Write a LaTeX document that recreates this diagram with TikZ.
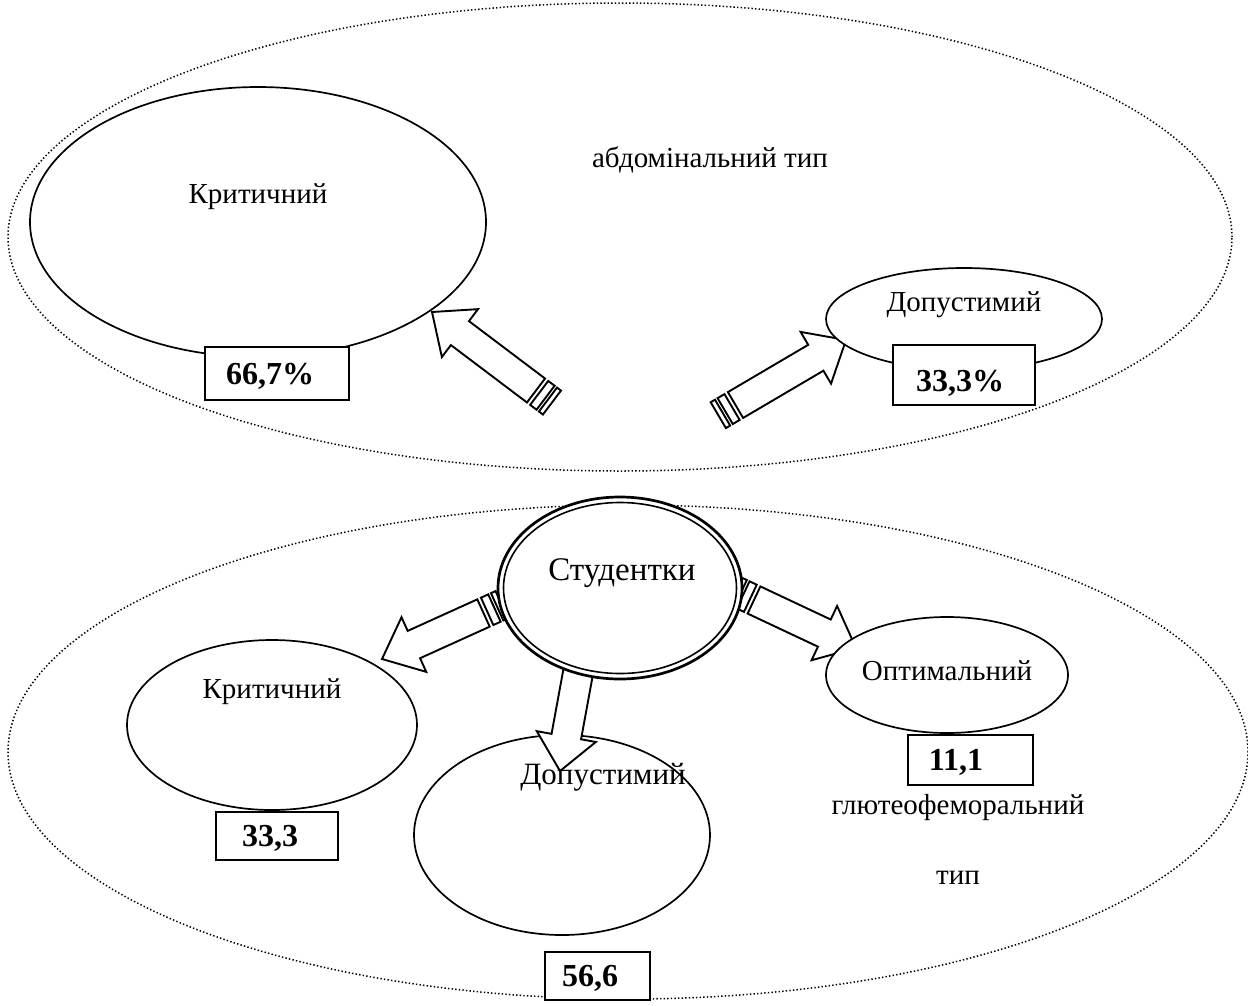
\documentclass[tikz,border=0pt]{standalone}
\usepackage{fontspec}
\setmainfont{Liberation Serif}
\usetikzlibrary{shapes.geometric,calc}

\tikzset{
  oval/.style={ellipse, draw, line width=1.7pt, fill=white, inner sep=0pt},
  bigoval/.style={ellipse, draw, line width=1.5pt, dash pattern=on 1.4pt off 2.2pt, inner sep=0pt},
  valbox/.style={draw, line width=2pt, fill=white, inner sep=0pt},
  valtxt/.style={font=\fontsize{32}{32}\bfseries\selectfont, inner sep=0pt},
  lbl/.style={font=\fontsize{29}{29}\selectfont, inner sep=0pt},
  arr/.style={draw, line width=1.9pt, fill=white, line join=miter},
}

% #1 tail, #2 tip, #3 = 1 for stripes
\newcommand\stripedarrow[3]{%
  \path let \p1=($(#2)-(#1)$), \n1={atan2(\y1,\x1)}, \n2={veclen(\x1,\y1)} in
    \pgfextra{\xdef\arrang{\n1}\xdef\arrlen{\n2}};
  \begin{scope}[shift={(#1)}, rotate=\arrang]
    \path[arr] (0,-15) -- (\arrlen-35,-15) -- (\arrlen-35,-30) -- (\arrlen,0)
      -- (\arrlen-35,30) -- (\arrlen-35,15) -- (0,15) -- cycle;
    \ifnum#3=1
      \path[arr] (-4,-15) rectangle (-12,15);
      \path[arr] (-15,-15) rectangle (-20,15);
    \fi
  \end{scope}
}

\begin{document}
\begin{tikzpicture}[x=1pt, y=-1pt]
  \useasboundingbox (0,0) rectangle (1248,1005);

  % big dotted groups
  \node[bigoval, minimum width=1224, minimum height=468] (abd) at (620,237) {};
  \node[bigoval, minimum width=1240, minimum height=494] (glu) at (628,752) {};

  % lower "Допустимий" ellipse (under its arrow)
  \node[oval, minimum width=296, minimum height=200] (dop2) at (562,835) {};

  % arrows
  \coordinate (a1t) at (536,390.5);  \coordinate (a1h) at (432,312);
  \coordinate (a2t) at (735.5,405);  \coordinate (a2h) at (846,340);
  \coordinate (a3t) at (483.5,613);  \coordinate (a3h) at (382,659);
  \coordinate (a4t) at (754,600);    \coordinate (a4h) at (856,648);
  \coordinate (a5t) at (584,640);    \coordinate (a5h) at (560,771);
  \stripedarrow{a1t}{a1h}{1}
  \stripedarrow{a2t}{a2h}{1}
  \stripedarrow{a3t}{a3h}{1}
  \stripedarrow{a4t}{a4h}{1}
  \stripedarrow{a5t}{a5h}{0}

  % ellipses over arrow heads
  \node[oval, minimum width=456, minimum height=270] (krit1) at (258,222) {};
  \node[oval, minimum width=276, minimum height=102] (dop1) at (964,319) {};
  \node[oval, minimum width=290, minimum height=170] (krit2) at (272,725) {};
  \node[oval, minimum width=242, minimum height=116] (opt) at (947,675) {};

  % central double ellipse
  \node[ellipse, draw, line width=2.7pt, fill=white, inner sep=0pt,
        minimum width=244, minimum height=182] (stud) at (620,588) {};
  \node[ellipse, draw, line width=1.6pt, inner sep=0pt,
        minimum width=233, minimum height=171] (studin) at (stud.center) {};

  % value boxes
  \node[valbox, minimum width=144, minimum height=53] (b1) at (277,373.5) {};
  \node[valbox, minimum width=142, minimum height=60] (b2) at (964,375) {};
  \node[valbox, minimum width=122, minimum height=48] (b3) at (277,836) {};
  \node[valbox, minimum width=105, minimum height=48] (b4) at (597.5,976) {};
  \node[valbox, minimum width=125, minimum height=50] (b5) at (970.5,760) {};

  \node[valtxt] (v1) at (270,376) {66,7\%};
  \node[valtxt] (v2) at (960,383) {33,3\%};
  \node[valtxt] (v3) at (270,838) {33,3};
  \node[valtxt] (v4) at (590,978) {56,6};
  \node[valtxt] (v5) at (956,762) {11,1};

  % labels
  \node[lbl] (tabd) at (710,160) {абдомінальний тип};
  \node[lbl] (tk1) at (258,197) {Критичний};
  \node[lbl] (td1) at (964,305) {Допустимий};
  \node[lbl, font=\fontsize{33}{33}\selectfont] (tst) at (622,573) {Студентки};
  \node[lbl] (tk2) at (272,692) {Критичний};
  \node[lbl, font=\fontsize{31}{31}\selectfont] (td2) at (603,777) {Допустимий};
  \node[lbl] (top) at (947,671) {Оптимальний};
  \node[lbl] (tglu) at (958,808) {глютеофеморальний};
  \node[lbl] (ttyp) at (958,878) {тип};
\end{tikzpicture}
\end{document}
